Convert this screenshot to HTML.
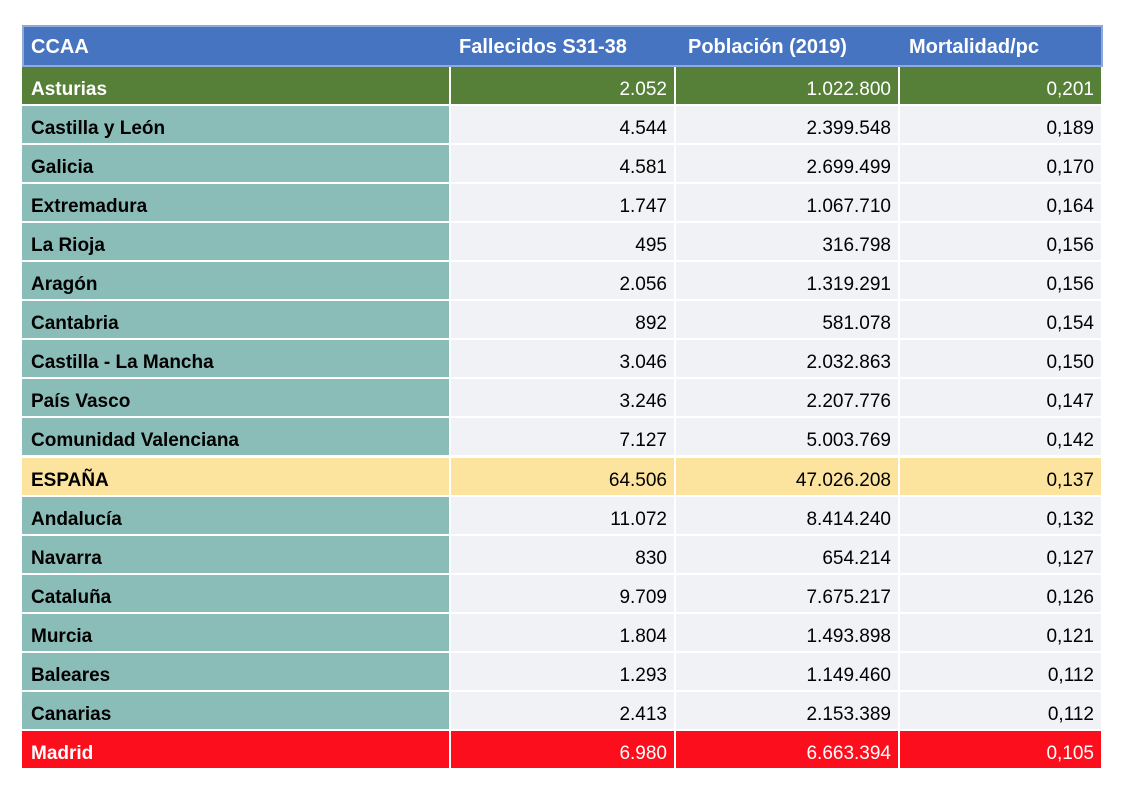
<!DOCTYPE html>
<html><head><meta charset="utf-8"><style>
body{margin:0;width:1125px;height:797px;background:#fff;position:relative;font-family:"Liberation Sans",sans-serif;overflow:hidden}
.c{position:absolute;box-sizing:border-box;font-size:19px;line-height:37px;padding-top:4px;white-space:nowrap}
.l{padding-left:9px;font-weight:bold}
.r{text-align:right;padding-right:7px}
#hdr{position:absolute;left:22px;top:25px;width:1081px;height:42px;background:#4674c1;border:2px solid #8fa9d8;box-sizing:border-box}
.h{position:absolute;top:26px;line-height:42px;color:#fff;font-size:20px;font-weight:bold}
</style></head><body>
<div id="hdr"></div>
<div class="h" style="left:31px">CCAA</div>
<div class="h" style="left:459px">Fallecidos S31-38</div>
<div class="h" style="left:688px">Población (2019)</div>
<div class="h" style="left:909px">Mortalidad/pc</div>
<div id="t"></div>
<script>
const names=["Asturias","Castilla y León","Galicia","Extremadura","La Rioja","Aragón","Cantabria","Castilla - La Mancha","País Vasco","Comunidad Valenciana","ESPAÑA","Andalucía","Navarra","Cataluña","Murcia","Baleares","Canarias","Madrid"];
const deaths=["2.052","4.544","4.581","1.747","495","2.056","892","3.046","3.246","7.127","64.506","11.072","830","9.709","1.804","1.293","2.413","6.980"];
const pop=["1.022.800","2.399.548","2.699.499","1.067.710","316.798","1.319.291","581.078","2.032.863","2.207.776","5.003.769","47.026.208","8.414.240","654.214","7.675.217","1.493.898","1.149.460","2.153.389","6.663.394"];
const mort=["0,201","0,189","0,170","0,164","0,156","0,156","0,154","0,150","0,147","0,142","0,137","0,132","0,127","0,126","0,121","0,112","0,112","0,105"];
const t=document.getElementById('t');
const cols=[[22,427],[451,223],[676,222],[900,201]];
const rowH=39.05;
names.forEach((n,i)=>{
  const y=67+i*rowH;
  let bg1="#8abcb8",bg="#f1f2f6",fg="#000",fg1="#000";
  if(n==="Asturias"){bg1=bg="#567f38";fg=fg1="#fff";}
  if(n==="ESPAÑA"){bg1=bg="#fce49f";}
  if(n==="Madrid"){bg1=bg="#fd0e1c";fg=fg1="#fff";}
  const vals=[n,deaths[i],pop[i],mort[i]];
  vals.forEach((v,j)=>{
    const d=document.createElement('div');
    d.className='c '+(j===0?'l':'r');
    d.style.left=cols[j][0]+'px';d.style.width=cols[j][1]+'px';
    d.style.top=y+'px';d.style.height=(rowH-2)+'px';
    d.style.background=j===0?bg1:bg;d.style.color=j===0?fg1:fg;
    d.textContent=v;
    
    
    t.appendChild(d);
  });
});
</script>
</body></html>
